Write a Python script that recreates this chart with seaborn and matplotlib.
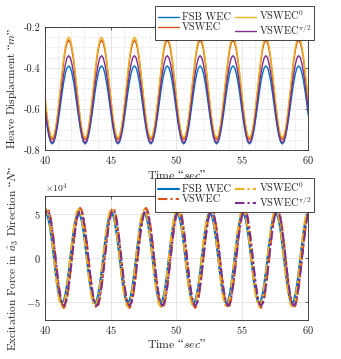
import numpy as np
import matplotlib
matplotlib.use("Agg")
import matplotlib.pyplot as plt
import seaborn as sns
from matplotlib.ticker import MultipleLocator

# time grid: 0.125 s steps, one wave cycle = 20 samples (period 2.5 s)
time = np.arange(162) * 0.125 + 39.925

# one cycle of heave displacement [m]
heave_fsb = [-0.580, -0.639, -0.692, -0.734, -0.761, -0.770, -0.761, -0.734, -0.692, -0.639,
             -0.580, -0.521, -0.468, -0.426, -0.399, -0.390, -0.399, -0.426, -0.468, -0.521]
heave_vswec = [-0.508, -0.582, -0.650, -0.704, -0.738, -0.750, -0.738, -0.704, -0.650, -0.582,
               -0.508, -0.433, -0.365, -0.311, -0.277, -0.265, -0.277, -0.311, -0.365, -0.433]
heave_vswec0 = [-0.495, -0.571, -0.639, -0.693, -0.728, -0.740, -0.728, -0.693, -0.639, -0.571,
                -0.495, -0.419, -0.351, -0.297, -0.262, -0.250, -0.262, -0.297, -0.351, -0.419]
heave_vswec90 = [-0.553, -0.618, -0.677, -0.724, -0.755, -0.765, -0.755, -0.724, -0.677, -0.618,
                 -0.553, -0.487, -0.428, -0.381, -0.350, -0.340, -0.350, -0.381, -0.428, -0.487]

# one cycle of excitation force [x1e4 N]
force_fsb = [4.85, 5.10, 4.85, 4.13, 3.00, 1.58, 0.00, -1.58, -3.00, -4.13,
             -4.85, -5.10, -4.85, -4.13, -3.00, -1.58, 0.00, 1.58, 3.00, 4.13]
force_vswec = [4.57, 5.37, 5.65, 5.37, 4.57, 3.32, 1.75, 0.00, -1.75, -3.32,
               -4.57, -5.37, -5.65, -5.37, -4.57, -3.32, -1.75, 0.00, 1.75, 3.32]
force_vswec0 = [5.23, 5.50, 5.23, 4.45, 3.23, 1.70, 0.00, -1.70, -3.23, -4.45,
                -5.23, -5.50, -5.23, -4.45, -3.23, -1.70, 0.00, 1.70, 3.23, 4.45]
force_vswec90 = [4.37, 5.14, 5.40, 5.14, 4.37, 3.17, 1.67, 0.00, -1.67, -3.17,
                 -4.37, -5.14, -5.40, -5.14, -4.37, -3.17, -1.67, 0.00, 1.67, 3.17]

labels = ["FSB WEC", "VSWEC", r"VSWEC$^0$", r"VSWEC$^{\pi/2}$"]
colors = ["#0072BD", "#D95319", "#EDB120", "#7E2F8E"]

def repeat(cycle, scale=1.0):
    return np.tile(np.array(cycle) * scale, 9)[:len(time)]

sns.set_style("white")
plt.rcParams["font.family"] = ["cmr10", "DejaVu Serif"]
plt.rcParams["mathtext.fontset"] = "cm"
plt.rcParams["axes.formatter.use_mathtext"] = True
plt.rcParams["axes.unicode_minus"] = False

fig = plt.figure(figsize=(3.41, 3.59), dpi=100)
ax1 = fig.add_axes([0.132, 0.582, 0.771, 0.343])
ax2 = fig.add_axes([0.132, 0.109, 0.771, 0.345])

# Heave displacement
for y, lab, c in zip([heave_fsb, heave_vswec, heave_vswec0, heave_vswec90], labels, colors):
    sns.lineplot(x=time, y=repeat(y), ax=ax1, color=c, lw=1.0, label=lab)

# Excitation force
dashdot = (0, (4.5, 1.5, 1, 1.5))
styles = ["-", dashdot, dashdot, dashdot]
for y, lab, c, ls in zip([force_fsb, force_vswec, force_vswec0, force_vswec90], labels, colors, styles):
    sns.lineplot(x=time, y=repeat(y, 1e4), ax=ax2, color=c, lw=1.5, label=lab, linestyle=ls)

ax1.set_ylim(-0.8, -0.2)
ax1.set_yticks([-0.8, -0.6, -0.4, -0.2])
ax1.set_yticklabels(["-0.8", "-0.6", "-0.4", "-0.2"])
ax1.yaxis.set_minor_locator(MultipleLocator(0.05))
ax1.xaxis.set_minor_locator(MultipleLocator(1))
ax1.grid(True, which="major", color="#e3e3e3", lw=0.6)
ax1.grid(True, which="minor", color="#d0d0d0", lw=0.5, ls=":")
ax1.set_ylabel(r"Heave Displacment $\mathrm{“}m\mathrm{”}$", fontsize=8.2)

ax2.set_ylim(-7e4, 7e4)
ax2.set_yticks([-5e4, 0, 5e4])
ax2.ticklabel_format(style="sci", axis="y", scilimits=(4, 4), useMathText=True)
ax2.grid(True, which="major", color="#e3e3e3", lw=0.6)
ax2.set_ylabel(r"Excitation Force in $\hat{a}_3$ Direction $\mathrm{“}N\mathrm{”}$", fontsize=8.2)
ax2.yaxis.get_offset_text().set_fontsize(7)

for ax in (ax1, ax2):
    ax.set_xlim(40, 60)
    ax.set_xticks([40, 45, 50, 55, 60])
    ax.set_xlabel(r"Time $\mathrm{“}sec\mathrm{”}$", fontsize=8.5, labelpad=1)
    ax.tick_params(labelsize=7.5, direction="in", length=2.5, width=0.5, colors="#262626",
                   top=True, right=True, pad=3)
    ax.tick_params(which="minor", length=0)
    for s in ax.spines.values():
        s.set_color("#262626")
        s.set_linewidth(0.6)
    ax.set_axisbelow(True)

leg_kw = dict(ncol=2, loc="upper right", fontsize=7.5, frameon=True, fancybox=False,
              edgecolor="#262626", framealpha=1, handlelength=2.0, handletextpad=0.3,
              columnspacing=0.4, labelspacing=0.05, borderpad=0.25, borderaxespad=0)
l1 = ax1.legend(bbox_to_anchor=(1.023, 1.17), **leg_kw)
l2 = ax2.legend(bbox_to_anchor=(1.023, 1.145), **leg_kw)
for l in (l1, l2):
    l.get_frame().set_linewidth(0.6)

fig.savefig("out.png", dpi=100)
